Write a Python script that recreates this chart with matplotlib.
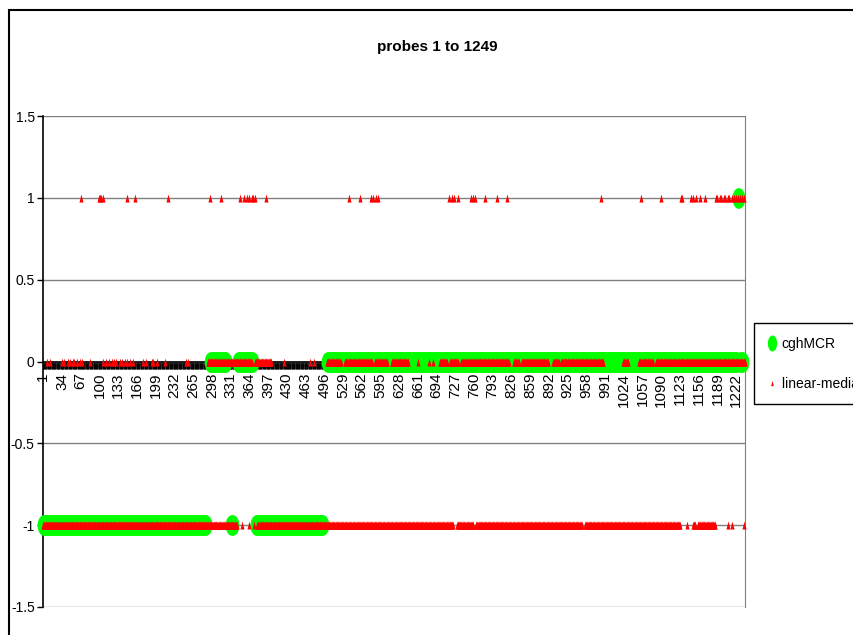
import numpy as np
import matplotlib
matplotlib.use('Agg')
import matplotlib.pyplot as plt
from matplotlib.path import Path
from matplotlib.lines import Line2D
from matplotlib.patches import Rectangle

plt.rcParams['font.family'] = ['Liberation Sans', 'DejaVu Sans']

N_CATEGORIES = 1238
TITLE = 'probes 1 to 1249'

# cghMCR calls as runs of categories: (first, last, value)
cgh_runs = [
    (1, 288, -1), (295, 323, 0), (332, 335, -1), (344, 370, 0),
    (375, 494, -1), (501, 1223, 0), (1225, 1227, 1), (1228, 1234, 0),
]

# linear-median adjusted calls, read per level
red_one_points = [67, 99, 101, 103, 106, 148, 163, 220, 294, 314, 347, 354, 360,
                  364, 368, 371, 374, 394, 539, 559, 578, 582, 587, 590, 716, 721,
                  724, 731, 755, 758, 762, 779, 801, 819, 984, 1055, 1090, 1124,
                  1127, 1142, 1146, 1151, 1158, 1167, 1186, 1189, 1193, 1196, 1200,
                  1203, 1207, 1210, 1214, 1218, 1221, 1225, 1228, 1232, 1235]
red_zero_points = [8, 13, 34, 37, 44, 48, 53, 56, 61, 65, 69, 84, 107, 111, 116,
                   122, 126, 130, 136, 140, 145, 149, 154, 159, 177, 182, 192, 195,
                   201, 215, 252, 256, 426, 471, 478, 662, 680, 687]
red_zero_runs = [(291, 368), (374, 403), (501, 525), (532, 580), (585, 607),
                 (615, 644), (700, 712), (718, 732), (738, 821), (830, 839),
                 (844, 891), (900, 909), (914, 988), (1023, 1032), (1050, 1075),
                 (1081, 1238)]
red_minus_points = [351, 364, 372, 1135, 1207, 1214, 1235]
red_minus_runs = [(1, 342), (378, 723), (730, 759), (763, 950), (956, 1123),
                  (1146, 1150), (1154, 1185)]

tick_labels = [1, 34, 67, 100, 133, 166, 199, 232, 265, 298, 331, 364, 397, 430,
               463, 496, 529, 562, 595, 628, 661, 694, 727, 760, 793, 826, 859,
               892, 925, 958, 991, 1024, 1057, 1090, 1123, 1156, 1189, 1222]
y_ticks = [-1.5, -1, -0.5, 0, 0.5, 1, 1.5]
y_labels = ['-1.5', '-1', '-0.5', '0', '0.5', '1', '1.5']


def expand(runs):
    return np.concatenate([np.arange(a, b + 1) for a, b in runs])


# marker shapes (squeezed like the original picture)
t = np.linspace(0, 2 * np.pi, 48)
ellipse = Path(np.column_stack([0.29 * np.cos(t), 0.5 * np.sin(t)]), closed=True)
triangle = Path([(-0.25, -0.5), (0.25, -0.5), (0, 0.5), (-0.25, -0.5)], closed=True)

fig = plt.figure(figsize=(8.54, 6.35), dpi=100)
W, H = 854, 635
ax = fig.add_axes([43 / W, (H - 607) / H, (745.5 - 43) / W, (607 - 116) / H])

# axis at y=0 first: moving the spine resets the ticks
ax.spines['bottom'].set_position(('data', 0))
ax.spines['bottom'].set_color('black')
ax.spines['bottom'].set_linewidth(1.2)
ax.spines['left'].set_color('black')
ax.spines['left'].set_linewidth(1.2)
ax.spines['right'].set_color('#808080')
ax.spines['top'].set_visible(False)
for s in ax.spines.values():
    s.set_zorder(1)

# green cghMCR
for a, b, v in cgh_runs:
    xs = np.arange(a, b + 1)
    ax.plot(xs, np.full(len(xs), v), ls='none', marker=ellipse, ms=14.5,
            mfc='#00FF00', mec='none', zorder=3, clip_on=False)

# red linear-median
zero_x = np.concatenate([np.array(red_zero_points), expand(red_zero_runs)])
minus_x = np.concatenate([np.array(red_minus_points), expand(red_minus_runs)])
red_x = np.concatenate([np.array(red_one_points), zero_x, minus_x])
red_y = np.concatenate([np.ones(len(red_one_points)), np.zeros(len(zero_x)),
                        -np.ones(len(minus_x))])
ax.plot(red_x, red_y, ls='none', marker=triangle, ms=5.8, mfc='#FF0000',
        mec='none', zorder=4, clip_on=False)

ax.set_xlim(0.5, N_CATEGORIES + 0.5)
ax.set_ylim(-1.5, 1.5)
ax.set_yticks(y_ticks)
ax.set_yticklabels(y_labels, fontsize=10)
ax.set_xticks(tick_labels)
ax.set_xticks(np.arange(0.5, N_CATEGORIES + 1, 1), minor=True)
ax.tick_params(axis='x', which='both', direction='out', length=5, width=0.6,
               color='black', pad=3)
ax.tick_params(axis='y', direction='out', length=4, width=1, color='black', pad=2)
ax.set_xticklabels([str(v) for v in tick_labels], rotation=90, va='top', ha='center',
                   fontsize=11)

ax.grid(axis='y', color='#808080', lw=1)
ax.set_axisbelow(True)

fig.text(437 / W, 1 - 47 / H, TITLE, ha='center', va='center', fontsize=11,
         fontweight='bold')

# chart area border
fig.add_artist(Rectangle((9 / W, -0.1), 1.2, 1.1 - 10 / H, transform=fig.transFigure,
                         fill=False, ec='black', lw=1.5))

handles = [
    Line2D([], [], ls='none', marker=ellipse, ms=11.5, mfc='#00FF00', mec='none'),
    Line2D([], [], ls='none', marker=triangle, ms=3.8, mfc='#FF0000', mec='none'),
]
fig.legend(handles, ['cghMCR', 'linear-median adjusted'], loc='upper left',
           bbox_to_anchor=(754 / W, 1 - 323 / H), borderaxespad=0, fontsize=10,
           frameon=True, fancybox=False, edgecolor='black', framealpha=1,
           handlelength=0.6, handletextpad=0.4, labelspacing=1.85, borderpad=1.0)

fig.savefig('out.png', dpi=100)
